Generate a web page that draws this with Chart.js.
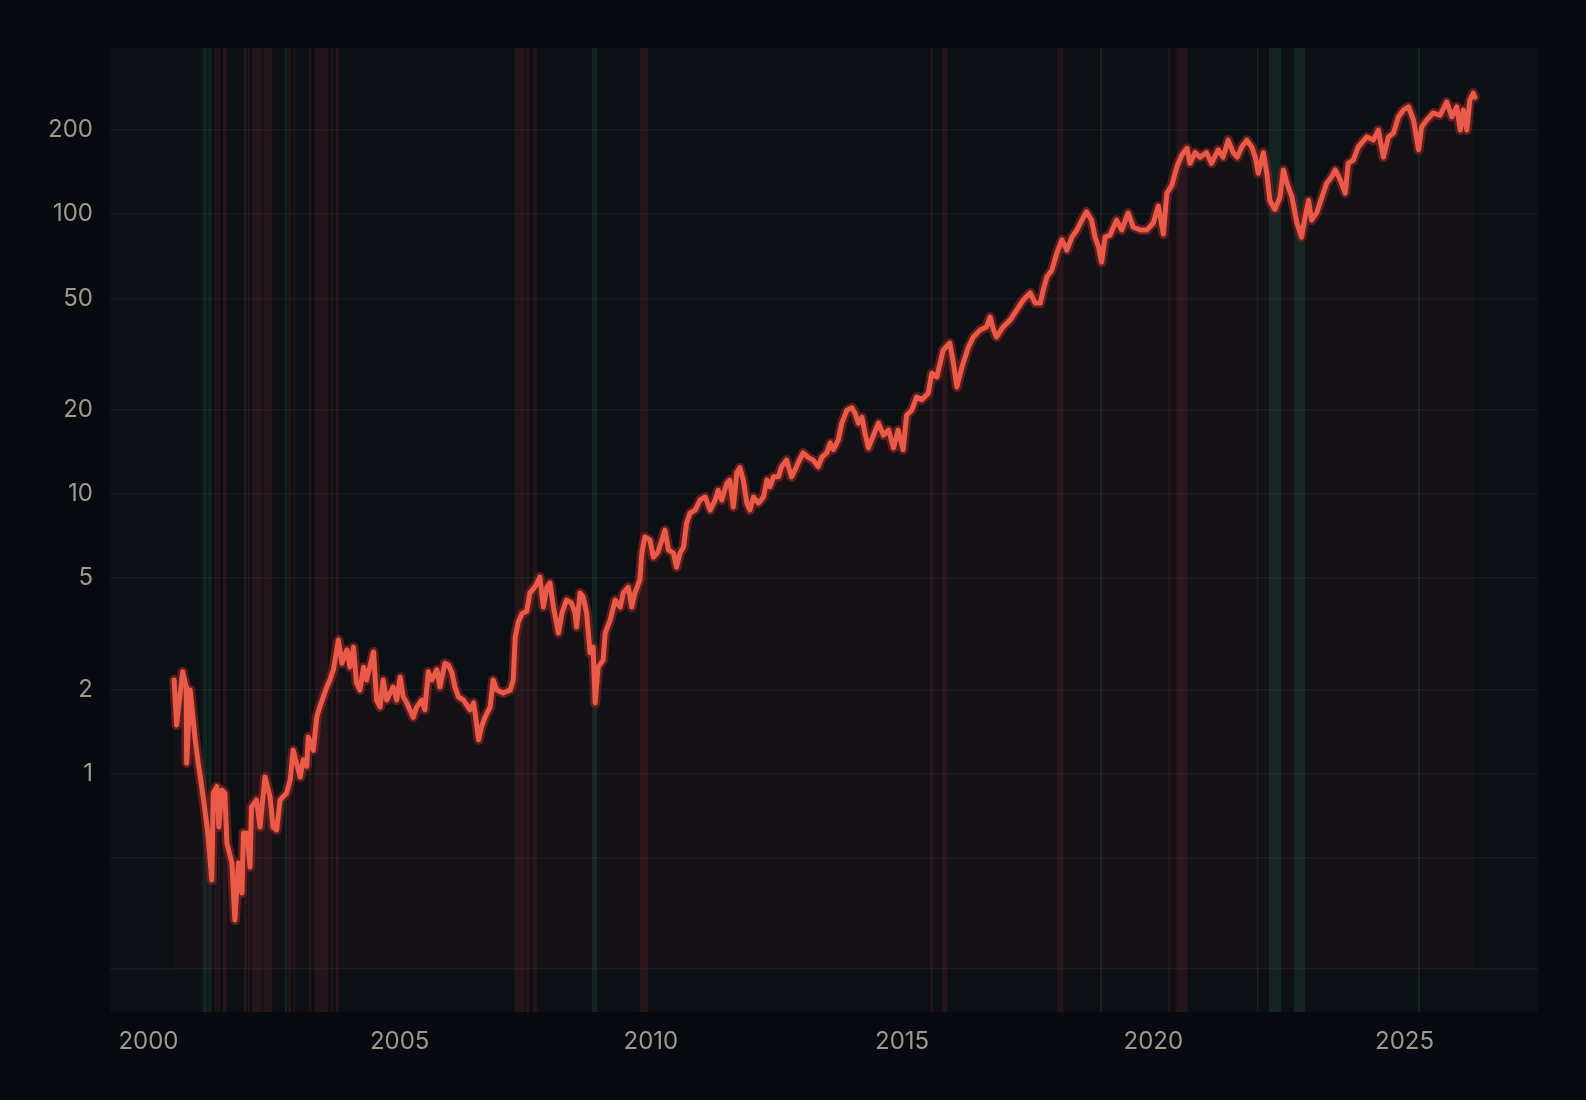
<!DOCTYPE html>
<html>
<head>
<meta charset="utf-8">
<script src="https://cdn.jsdelivr.net/npm/chart.js@4.4.1/dist/chart.umd.min.js"></script>
<style>
  html, body { margin: 0; padding: 0; background: #070b11; }
  canvas { display: block; }
</style>
</head>
<body>
<canvas id="myChart" width="1586" height="1100"></canvas>
<script>
// decimal years and values
var years = [
    2000.51, 2000.56, 2000.68, 2000.75, 2000.76, 2000.83, 2000.93, 2000.99, 2001.06, 2001.11,
    2001.18, 2001.26, 2001.29, 2001.36, 2001.40, 2001.46, 2001.52, 2001.56, 2001.66, 2001.72,
    2001.79, 2001.86, 2001.89, 2001.96, 2002.02, 2002.05, 2002.15, 2002.22, 2002.32, 2002.42,
    2002.48, 2002.55, 2002.62, 2002.75, 2002.82, 2002.88, 2003.02, 2003.08, 2003.15, 2003.18,
    2003.28, 2003.35, 2003.41, 2003.48, 2003.55, 2003.61, 2003.68, 2003.78, 2003.85, 2003.95,
    2004.01, 2004.08, 2004.14, 2004.21, 2004.28, 2004.34, 2004.48, 2004.54, 2004.61, 2004.67,
    2004.74, 2004.87, 2004.94, 2005.01, 2005.07, 2005.14, 2005.27, 2005.34, 2005.44, 2005.50,
    2005.57, 2005.64, 2005.74, 2005.80, 2005.90, 2005.97, 2006.04, 2006.10, 2006.17, 2006.27,
    2006.40, 2006.47, 2006.50, 2006.57, 2006.63, 2006.70, 2006.80, 2006.86, 2006.93, 2007.06,
    2007.20, 2007.26, 2007.30, 2007.36, 2007.43, 2007.53, 2007.59, 2007.69, 2007.79, 2007.86,
    2007.93, 2007.99, 2008.06, 2008.16, 2008.23, 2008.32, 2008.42, 2008.49, 2008.52, 2008.59,
    2008.65, 2008.72, 2008.79, 2008.85, 2008.89, 2008.95, 2009.05, 2009.09, 2009.19, 2009.29,
    2009.39, 2009.45, 2009.55, 2009.62, 2009.68, 2009.78, 2009.82, 2009.88, 2009.98, 2010.05,
    2010.14, 2010.22, 2010.28, 2010.35, 2010.45, 2010.51, 2010.58, 2010.65, 2010.71, 2010.78,
    2010.88, 2010.98, 2011.08, 2011.18, 2011.28, 2011.34, 2011.41, 2011.51, 2011.57, 2011.64,
    2011.71, 2011.77, 2011.84, 2011.91, 2011.97, 2012.04, 2012.14, 2012.24, 2012.31, 2012.37,
    2012.44, 2012.54, 2012.60, 2012.70, 2012.80, 2012.87, 2012.93, 2013.03, 2013.13, 2013.23,
    2013.33, 2013.40, 2013.50, 2013.57, 2013.63, 2013.73, 2013.80, 2013.90, 2014.00, 2014.06,
    2014.13, 2014.20, 2014.26, 2014.33, 2014.43, 2014.53, 2014.63, 2014.73, 2014.83, 2014.92,
    2015.02, 2015.09, 2015.19, 2015.29, 2015.39, 2015.52, 2015.59, 2015.69, 2015.82, 2015.95,
    2016.02, 2016.09, 2016.19, 2016.32, 2016.42, 2016.55, 2016.68, 2016.75, 2016.82, 2016.88,
    2017.01, 2017.15, 2017.28, 2017.41, 2017.55, 2017.65, 2017.75, 2017.81, 2017.88, 2017.98,
    2018.08, 2018.18, 2018.28, 2018.38, 2018.48, 2018.58, 2018.67, 2018.77, 2018.84, 2018.91,
    2018.97, 2019.04, 2019.14, 2019.27, 2019.37, 2019.50, 2019.60, 2019.74, 2019.87, 2020.00,
    2020.10, 2020.20, 2020.27, 2020.37, 2020.47, 2020.57, 2020.67, 2020.73, 2020.83, 2020.93,
    2021.06, 2021.16, 2021.29, 2021.39, 2021.49, 2021.59, 2021.67, 2021.76, 2021.86, 2021.96,
    2022.03, 2022.09, 2022.19, 2022.26, 2022.32, 2022.42, 2022.52, 2022.59, 2022.66, 2022.76,
    2022.86, 2022.95, 2023.02, 2023.09, 2023.15, 2023.25, 2023.32, 2023.45, 2023.55, 2023.62,
    2023.72, 2023.82, 2023.88, 2023.98, 2024.08, 2024.25, 2024.38, 2024.48, 2024.58, 2024.68,
    2024.78, 2024.88, 2024.98, 2025.08, 2025.18, 2025.28, 2025.34, 2025.44, 2025.57, 2025.71,
    2025.84, 2025.94, 2026.04, 2026.11, 2026.17, 2026.24, 2026.30, 2026.37, 2026.40
];
var values = [
    2.16, 1.49, 2.31, 2.04, 1.09, 1.99, 1.32, 1.09, 0.897, 0.772,
    0.613, 0.416, 0.852, 0.897, 0.644, 0.873, 0.852, 0.564, 0.479, 0.299,
    0.479, 0.374, 0.613, 0.613, 0.463, 0.759, 0.804, 0.644, 0.971, 0.824,
    0.644, 0.628, 0.804, 0.852, 0.948, 1.21, 0.971, 1.12, 1.06, 1.35,
    1.21, 1.59, 1.73, 1.88, 2.04, 2.16, 2.35, 3.00, 2.48, 2.77,
    2.40, 2.83, 2.11, 1.99, 2.40, 2.16, 2.72, 1.83, 1.73, 2.16,
    1.83, 2.04, 1.83, 2.21, 1.88, 1.79, 1.59, 1.73, 1.83, 1.69,
    2.31, 2.16, 2.35, 2.04, 2.48, 2.44, 2.29, 2.04, 1.88, 1.83,
    1.69, 1.79, 1.65, 1.32, 1.47, 1.59, 1.73, 2.16, 1.99, 1.94,
    1.99, 2.16, 3.08, 3.48, 3.72, 3.81, 4.42, 4.64, 5.04, 3.94,
    4.64, 4.80, 3.94, 3.18, 3.75, 4.17, 4.07, 3.75, 3.34, 4.42,
    4.28, 3.75, 2.70, 2.83, 1.79, 2.40, 2.55, 3.18, 3.54, 4.17,
    3.94, 4.42, 4.64, 3.94, 4.42, 4.92, 6.14, 7.01, 6.84, 5.94,
    6.19, 6.84, 7.42, 6.30, 6.14, 5.47, 6.14, 6.46, 7.86, 8.54,
    8.75, 9.51, 9.74, 8.75, 9.51, 10.3, 9.51, 10.9, 11.2, 8.97,
    11.9, 12.4, 11.2, 9.27, 8.75, 9.74, 9.27, 9.74, 11.2, 10.6,
    11.5, 11.5, 12.5, 13.2, 11.5, 12.2, 12.9, 14.0, 13.5, 13.2,
    12.5, 13.5, 14.0, 15.2, 14.4, 15.6, 17.9, 19.9, 20.3, 19.5,
    17.9, 18.8, 16.5, 14.6, 16.2, 17.9, 16.2, 16.9, 14.6, 16.9,
    14.4, 19.1, 19.9, 22.2, 21.7, 22.9, 27.0, 26.2, 32.7, 34.6,
    29.4, 24.1, 28.4, 33.5, 36.4, 38.5, 39.5, 42.9, 38.5, 36.4,
    39.5, 41.8, 45.4, 49.3, 52.3, 48.1, 48.1, 53.6, 59.6, 63.1,
    72.6, 80.9, 74.4, 82.8, 87.8, 95.3, 102, 95.3, 82.8, 76.3,
    67.4, 82.8, 84.2, 95.3, 87.8, 101, 90.0, 87.8, 87.8, 93.0,
    107, 84.9, 119, 127, 148, 163, 172, 152, 166, 160,
    166, 152, 170, 160, 184, 166, 160, 174, 184, 174,
    160, 140, 166, 140, 112, 104, 115, 144, 129, 115,
    93.0, 82.8, 97.7, 112, 95.3, 101, 110, 129, 136, 144,
    133, 119, 152, 156, 174, 189, 184, 200, 160, 189,
    195, 223, 236, 242, 217, 170, 205, 217, 230, 226,
    252, 223, 242, 200, 236, 200, 256, 271, 262
];

// shaded regime bands (decimal years)
var redStart = [2001.32, 2001.38, 2001.48, 2001.90, 2001.98, 2002.06, 2002.28, 2002.78, 2002.88, 2003.20, 2003.31, 2003.63, 2003.73, 2007.29, 2007.51, 2007.65, 2009.78, 2015.56, 2015.80, 2018.09, 2020.30, 2020.46];
var redEnd   = [2001.36, 2001.42, 2001.56, 2001.96, 2002.02, 2002.26, 2002.46, 2002.84, 2002.92, 2003.24, 2003.57, 2003.67, 2003.79, 2007.49, 2007.59, 2007.73, 2009.94, 2015.62, 2015.90, 2018.21, 2020.32, 2020.68];
var greenStart = [2001.08, 2001.19, 2002.72, 2008.83, 2018.94, 2022.06, 2022.30, 2022.80, 2025.27];
var greenEnd   = [2001.17, 2001.25, 2002.76, 2008.93, 2018.98, 2022.09, 2022.54, 2023.02, 2025.31];

var xTicks = [2000, 2005, 2010, 2015, 2020, 2025];
var yTicks = [0.2, 0.5, 1, 2, 5, 10, 20, 50, 100, 200];
var yLabels = ['', '', '1', '2', '5', '10', '20', '50', '100', '200'];

var points = years.map(function (yr, i) {
    return { x: yr, y: values[i] };
});

var bandsPlugin = {
    id: 'bands',
    beforeDraw: function (chart) {
        var ctx = chart.ctx, area = chart.chartArea, xs = chart.scales.x;
        ctx.save();
        ctx.fillStyle = '#0c1014';
        ctx.fillRect(area.left, area.top, area.right - area.left, area.bottom - area.top);
        function band(s, e, color) {
            var x0 = xs.getPixelForValue(s), x1 = xs.getPixelForValue(e);
            ctx.fillStyle = color;
            ctx.fillRect(x0, area.top, Math.max(x1 - x0, 1.5), area.bottom - area.top);
        }
        redStart.forEach(function (s, i) { band(s, redEnd[i], 'rgba(190,60,60,0.13)'); });
        greenStart.forEach(function (s, i) { band(s, greenEnd[i], 'rgba(60,170,120,0.14)'); });
        ctx.restore();
    }
};

var ctx = document.getElementById('myChart');
var myChart = new Chart(ctx, {
    type: 'line',
    data: {
        datasets: [{
            data: points,
            borderColor: '#ea5a48',
            borderWidth: 5,
            borderJoinStyle: 'round',
            borderCapStyle: 'round',
            pointRadius: 0,
            tension: 0,
            fill: { value: 0.2 },
            backgroundColor: 'rgba(225,70,100,0.04)',
            order: 1
        }, {
            // dark halo behind the line
            data: points,
            borderColor: 'rgba(110,32,30,0.8)',
            borderWidth: 10,
            borderJoinStyle: 'round',
            borderCapStyle: 'round',
            pointRadius: 0,
            tension: 0,
            fill: false,
            order: 2
        }]
    },
    options: {
        responsive: false,
        animation: false,
        events: [],
        layout: {
            padding: { top: 48, right: 48, left: 0, bottom: 0 }
        },
        plugins: {
            legend: { display: false },
            tooltip: { enabled: false }
        },
        scales: {
            x: {
                type: 'linear',
                min: 1999.234,
                max: 2027.657,
                afterBuildTicks: function (scale) {
                    scale.ticks = xTicks.map(function (v) { return { value: v }; });
                },
                afterFit: function (scale) { scale.height = 88; },
                ticks: {
                    color: '#9e9a8c',
                    font: { family: 'Inter', size: 24 },
                    padding: 7,
                    maxRotation: 0,
                    callback: function (val) { return String(val); }
                },
                grid: { display: false },
                border: { display: false }
            },
            y: {
                type: 'logarithmic',
                min: 0.1403,
                max: 392.9,
                afterBuildTicks: function (scale) {
                    scale.ticks = yTicks.map(function (v) { return { value: v }; });
                },
                afterFit: function (scale) { scale.width = 110; },
                ticks: {
                    color: '#9e9a8c',
                    font: { family: 'Inter', size: 24 },
                    padding: 17,
                    callback: function (val, index) { return yLabels[index]; }
                },
                grid: {
                    color: 'rgba(255,255,255,0.045)',
                    lineWidth: 1.5,
                    drawTicks: false
                },
                border: { display: false }
            }
        }
    },
    plugins: [bandsPlugin]
});
</script>
</body>
</html>
